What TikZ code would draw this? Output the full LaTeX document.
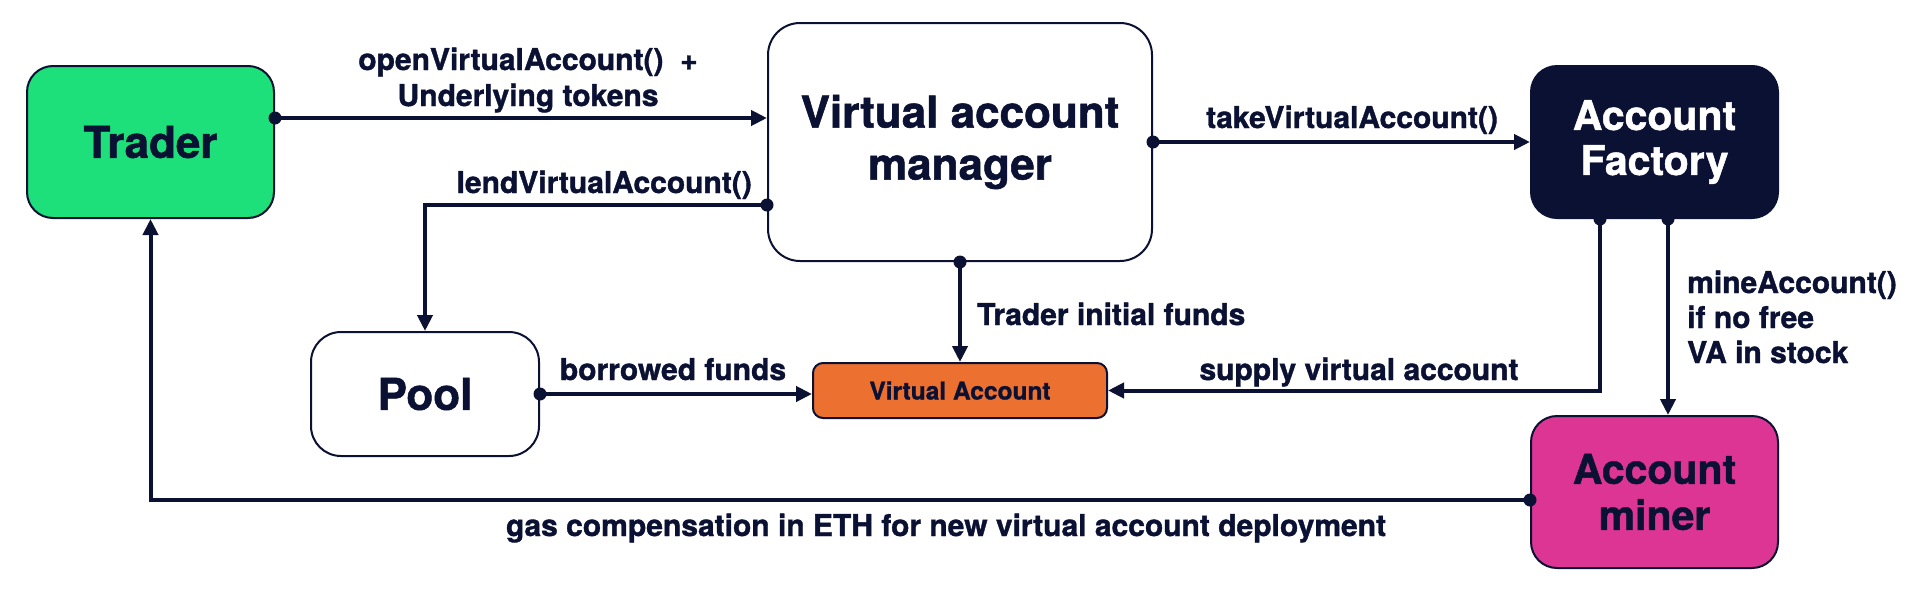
\documentclass[tikz,border=0pt]{standalone}
\usepackage{fontspec}
\setmainfont{TeX Gyre Heros}[BoldFeatures={FakeBold=1.2}]
\usetikzlibrary{arrows.meta,calc}
\definecolor{navy}{HTML}{0B1133}
\definecolor{tgreen}{HTML}{1EE07A}
\definecolor{vorange}{HTML}{EC7130}
\definecolor{mpink}{HTML}{DD3594}
\begin{document}
\begin{tikzpicture}[x=1pt,y=-1pt,
  box/.style={draw=navy, line width=2pt, align=center, text=navy,
    font=\bfseries\fontsize{44}{52}\selectfont, inner sep=0pt},
  conn/.style={draw=navy, line width=4pt, -{Triangle[length=16pt,width=15pt]}},
  lab/.style={text=navy, inner sep=0pt, font=\bfseries\fontsize{30}{35}\selectfont},
  dotc/.style={fill=navy}]
\fill[white] (0,0) rectangle (1920,600);
\useasboundingbox (0,0) rectangle (1920,600);

\node[box, fill=tgreen, rounded corners=26pt, minimum width=247pt, minimum height=152pt] (trader) at (150.5,142) {Trader};
\node[box, fill=white, rounded corners=32pt, minimum width=384pt, minimum height=238pt] (vam) at (960,142) {Virtual account\\manager};
\node[box, fill=navy, text=white, rounded corners=26pt, minimum width=247pt, minimum height=152pt, font=\bfseries\fontsize{41}{45}\selectfont] (fac) at (1654.5,142) {Account\\Factory};
\node[box, fill=white, rounded corners=30pt, minimum width=228pt, minimum height=124pt] (pool) at (425,394) {Pool};
\node[box, fill=vorange, rounded corners=10pt, minimum width=294pt, minimum height=55pt, font=\bfseries\fontsize{24.5}{28}\selectfont] (va) at (960,390.5) {Virtual Account};
\node[box, fill=mpink, rounded corners=26pt, minimum width=247pt, minimum height=152pt, font=\bfseries\fontsize{41}{46}\selectfont] (miner) at (1654.5,492) {Account\\miner};

\coordinate (t1) at ($(trader.east)+(0,-24)$);
\coordinate (l1) at ($(vam.west)+(0,63)$);
\coordinate (f1) at ($(fac.south)+(-54.5,0)$);
\coordinate (f2) at ($(fac.south)+(13.5,0)$);
\coordinate (m1) at ($(miner.west)+(0,8)$);

\draw[conn] (t1) -- (t1 -| vam.west);
\draw[conn] (l1) -| (pool.north);
\draw[conn] (vam.east) -- (fac.west);
\draw[conn] (vam.south) -- (va.north);
\draw[conn] (pool.east) -- (pool.east -| va.west);
\draw[conn] (f1) |- (va.east);
\draw[conn] (f2) -- (f2 |- miner.north);
\draw[conn] (m1) -| (trader.south);

\foreach \p in {t1,l1,vam.east,vam.south,pool.east,f1,f2,m1}
  \fill[dotc] (\p) circle (6.5pt);

\node[lab, anchor=base] (lo1) at (528,70) {openVirtualAccount()\ \ +};
\node[lab, anchor=base] (lo2) at (528,106) {Underlying tokens};
\node[lab, anchor=base east] (ll) at (752,193) {lendVirtualAccount()};
\node[lab, anchor=base] (lt) at (1352,128) {takeVirtualAccount()};
\node[lab, anchor=base west] (li) at (977,325) {Trader initial funds};
\node[lab, anchor=base] (lb) at (673,380) {borrowed funds};
\node[lab, anchor=base] (ls) at (1359,380) {supply virtual account};
\node[lab, anchor=base] (lg) at (946,536) {gas compensation in ETH for new virtual account deployment};
\node[lab, anchor=base west] (lm1) at (1687,293) {mineAccount()};
\node[lab, anchor=base west] (lm2) at (1687,328) {if no free};
\node[lab, anchor=base west] (lm3) at (1687,363) {VA in stock};
\end{tikzpicture}
\end{document}
